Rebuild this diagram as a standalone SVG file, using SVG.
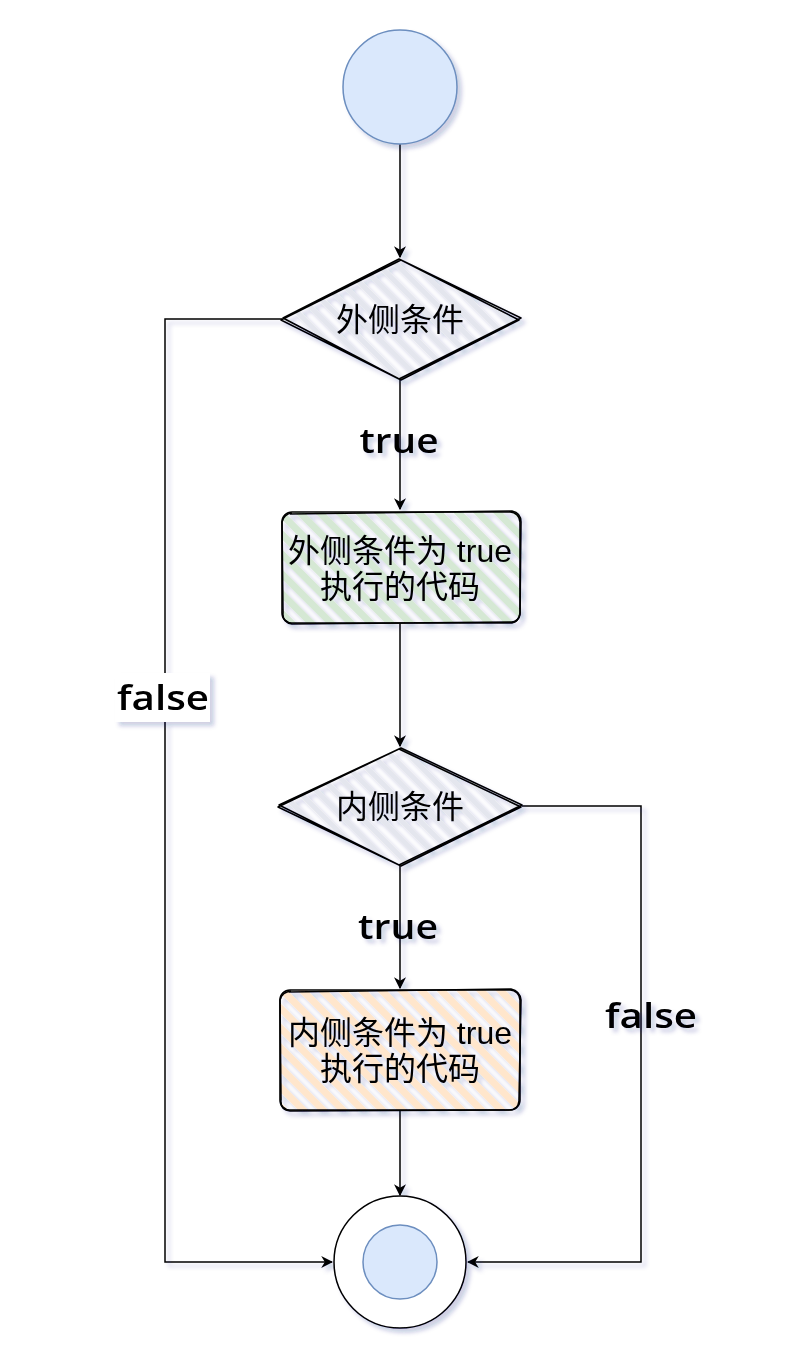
<svg xmlns="http://www.w3.org/2000/svg" width="792" height="1362" viewBox="0 0 792 1362">
<defs>
<filter id="sh" x="-20%" y="-20%" width="150%" height="150%">
<feGaussianBlur in="SourceAlpha" stdDeviation="2"/>
<feOffset dx="4" dy="4" result="b"/>
<feFlood flood-color="#1a237e" flood-opacity="0.22"/>
<feComposite in2="b" operator="in" result="s"/>
<feMerge><feMergeNode in="s"/><feMergeNode in="SourceGraphic"/></feMerge>
</filter>
<pattern id="hGrey" patternUnits="userSpaceOnUse" width="13" height="13" patternTransform="rotate(-45)">
<rect x="0" y="0" width="5" height="13" fill="#e4e6ee"/>
</pattern>
<pattern id="hGreen" patternUnits="userSpaceOnUse" width="14" height="14" patternTransform="rotate(-45)">
<rect x="0" y="0" width="7" height="14" fill="#d5e8d4"/>
</pattern>
<pattern id="hOrange" patternUnits="userSpaceOnUse" width="14" height="14" patternTransform="rotate(-45)">
<rect x="0" y="0" width="7" height="14" fill="#ffe6cc"/>
</pattern>
<marker id="arr" viewBox="0 0 10 10" refX="9" refY="5" markerWidth="12" markerHeight="12" markerUnits="userSpaceOnUse" orient="auto">
<path d="M0,0 L10,5 L0,10 L3,5 Z" fill="#000"/>
</marker>
</defs>
<style>
.edge{fill:none;stroke:#000;stroke-width:1.5;marker-end:url(#arr)}
.cn{font-family:"Liberation Sans","Noto Sans CJK SC",sans-serif;font-size:32px;fill:#000;text-anchor:middle}
.lbl{font-family:"Comic Sans MS","Open Sans","Noto Sans",sans-serif;font-size:34px;font-weight:600;fill:#000;text-anchor:middle}
.sk{fill:none;stroke:#000;stroke-width:1.6;stroke-linejoin:round}
</style>
<rect width="792" height="1362" fill="#fff"/>

<g id="edges" filter="url(#sh)">
<path class="edge" d="M400,144 L400,257"/>
<path class="edge" d="M400,380 L400,509"/>
<path class="edge" d="M400,623 L400,746"/>
<path class="edge" d="M400,866 L400,988"/>
<path class="edge" d="M400,1110 L400,1195"/>
<path class="edge" d="M282,319 L165,319 L165,1262 L332,1262"/>
<path class="edge" d="M522,806 L641,806 L641,1262 L468,1262"/>
<rect x="115" y="673" width="95" height="49" fill="#fff"/>
<text class="lbl" x="163" y="710" textLength="92" lengthAdjust="spacingAndGlyphs">false</text>
<text class="lbl" x="399" y="453" textLength="79" lengthAdjust="spacingAndGlyphs">true</text>
<text class="lbl" x="398" y="939" textLength="80" lengthAdjust="spacingAndGlyphs">true</text>
<text class="lbl" x="651" y="1028" textLength="92" lengthAdjust="spacingAndGlyphs">false</text>
</g>

<g id="start" filter="url(#sh)">
<circle cx="400" cy="87" r="57" fill="#dae8fc" stroke="#6c8ebf" stroke-width="1.5"/>
</g>

<g id="cond1" filter="url(#sh)">
<path d="M400,258 L520,319 L400,380 L282,319 Z" fill="url(#hGrey)"/>
<path class="sk" d="M399,259 L519,320 L401,380 L283,318 Z M401,260 L521,318 L399,379 L281,320 Z"/>
<text class="cn" x="400" y="331">外侧条件</text>
</g>

<g id="body1" filter="url(#sh)">
<rect x="282" y="512" width="238" height="111" rx="10" fill="url(#hGreen)"/>
<rect class="sk" x="282" y="512" width="238" height="111" rx="10"/>
<path class="sk" d="M290,514 L512,511 Q521,513 521,522 L520,614 Q518,623 510,622 L292,624 Q282,622 283,613 L282,522 Q284,514 292,513" stroke-width="1"/>
<text class="cn" x="400" y="562">外侧条件为 true</text>
<text class="cn" x="400" y="598">执行的代码</text>
</g>

<g id="cond2" filter="url(#sh)">
<path d="M400,748 L522,806 L400,866 L278,806 Z" fill="url(#hGrey)"/>
<path class="sk" d="M399,749 L521,807 L401,866 L279,805 Z M401,748 L522,805 L399,865 L278,807 Z"/>
<text class="cn" x="400" y="818">内侧条件</text>
</g>

<g id="body2" filter="url(#sh)">
<rect x="280" y="990" width="240" height="120" rx="10" fill="url(#hOrange)"/>
<rect class="sk" x="280" y="990" width="240" height="120" rx="10"/>
<path class="sk" d="M289,992 L511,989 Q520,991 521,1000 L519,1101 Q518,1110 509,1110 L290,1111 Q280,1110 281,1100 L280,1000 Q282,992 291,991" stroke-width="1"/>
<text class="cn" x="400" y="1044">内侧条件为 true</text>
<text class="cn" x="400" y="1080">执行的代码</text>
</g>

<g id="end" filter="url(#sh)">
<circle cx="400" cy="1262" r="66" fill="#fff" stroke="#000" stroke-width="1.5"/>
<circle cx="400" cy="1262" r="37" fill="#dae8fc" stroke="#6c8ebf" stroke-width="1.5"/>
</g>
</svg>
